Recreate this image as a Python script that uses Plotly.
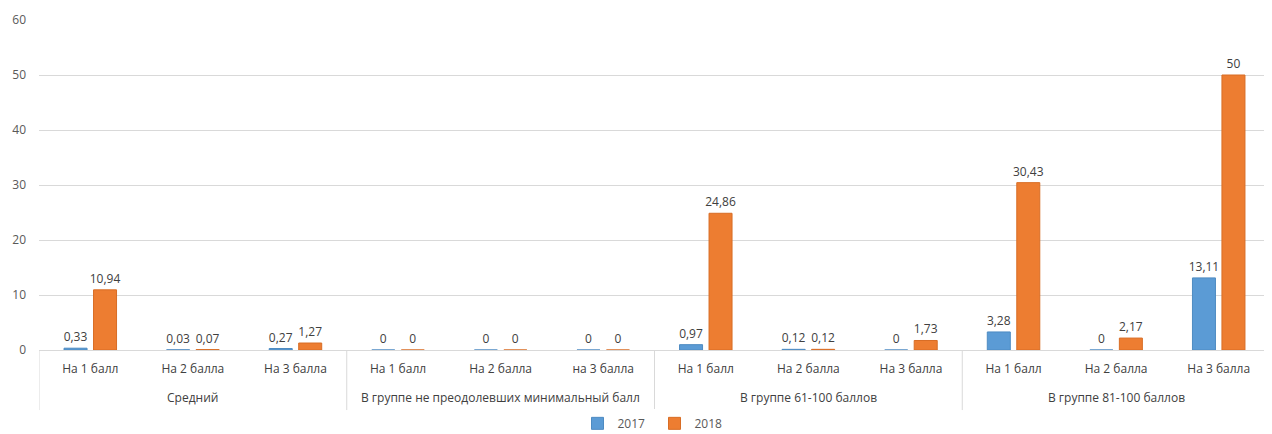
import plotly.graph_objects as go

groups = [
    "Средний",
    "В группе не преодолевших минимальный балл",
    "В группе 61-100 баллов",
    "В группе 81-100 баллов",
]
subcats = [
    "На 1 балл", "На 2 балла", "На 3 балла",
    "На 1 балл", "На 2 балла", "на 3 балла",
    "На 1 балл", "На 2 балла", "На 3 балла",
    "На 1 балл", "На 2 балла", "На 3 балла",
]
values_2017 = [0.33, 0.03, 0.27, 0, 0, 0, 0.97, 0.12, 0, 3.28, 0, 13.11]
values_2018 = [10.94, 0.07, 1.27, 0, 0, 0, 24.86, 0.12, 1.73, 30.43, 2.17, 50]

FONT = "Open Sans, Liberation Sans, sans-serif"
GRID = "#D9D9D9"
positions = list(range(len(subcats)))

fig = go.Figure()
for name, vals, color, edge in [
    ("2017", values_2017, "#5B9BD5", "#4E8BC2"),
    ("2018", values_2018, "#ED7D31", "#D86D25"),
]:
    fig.add_trace(
        go.Bar(
            x=positions,
            y=vals,
            name=name,
            marker=dict(color=color, line=dict(color=edge, width=1)),
            texttemplate="%{y:.2~f}",
            textposition="outside",
            cliponaxis=False,
            textfont=dict(family=FONT, size=12, color="#404040"),
        )
    )

# group labels under the sub-category labels, and dividers between groups
n_sub = 3
for i, g in enumerate(groups):
    fig.add_annotation(
        x=i * n_sub + (n_sub - 1) / 2,
        y=-0.145,
        xref="x",
        yref="paper",
        yanchor="middle",
        text=g,
        showarrow=False,
        font=dict(family=FONT, size=12, color="#404040"),
    )
    fig.add_shape(
        type="line",
        x0=i * n_sub - 0.5,
        x1=i * n_sub - 0.5,
        y0=0,
        y1=-0.182,
        xref="x",
        yref="paper",
        line=dict(color=GRID, width=1),
    )

fig.update_layout(
    width=1264,
    height=426,
    margin=dict(l=31, r=2, t=12, b=84),
    plot_bgcolor="white",
    paper_bgcolor="white",
    separators=", ",
    barmode="group",
    bargap=0.425,
    bargroupgap=0.22,
    uniformtext=dict(minsize=12, mode="show"),
    font=dict(family=FONT, size=12, color="#595959"),
    legend=dict(
        orientation="h",
        x=0.5,
        xanchor="center",
        yref="container",
        y=0.025,
        yanchor="middle",
        font=dict(size=12, color="#595959"),
        itemwidth=30,
        entrywidth=32,
    ),
)
fig.update_yaxes(
    range=[0, 60],
    dtick=10,
    showgrid=True,
    gridcolor=GRID,
    gridwidth=1,
    zeroline=False,
    showline=False,
    ticks="",
    ticklabelstandoff=12,
    tickfont=dict(size=12, color="#595959"),
    automargin=False,
)
fig.update_xaxes(
    range=[-0.5, len(subcats) - 0.5],
    tickvals=positions,
    ticktext=subcats,
    showline=True,
    linecolor=GRID,
    showgrid=False,
    zeroline=False,
    ticks="",
    ticklabelstandoff=8,
    tickfont=dict(size=12, color="#404040"),
    automargin=False,
)

fig.write_html("out.html")
